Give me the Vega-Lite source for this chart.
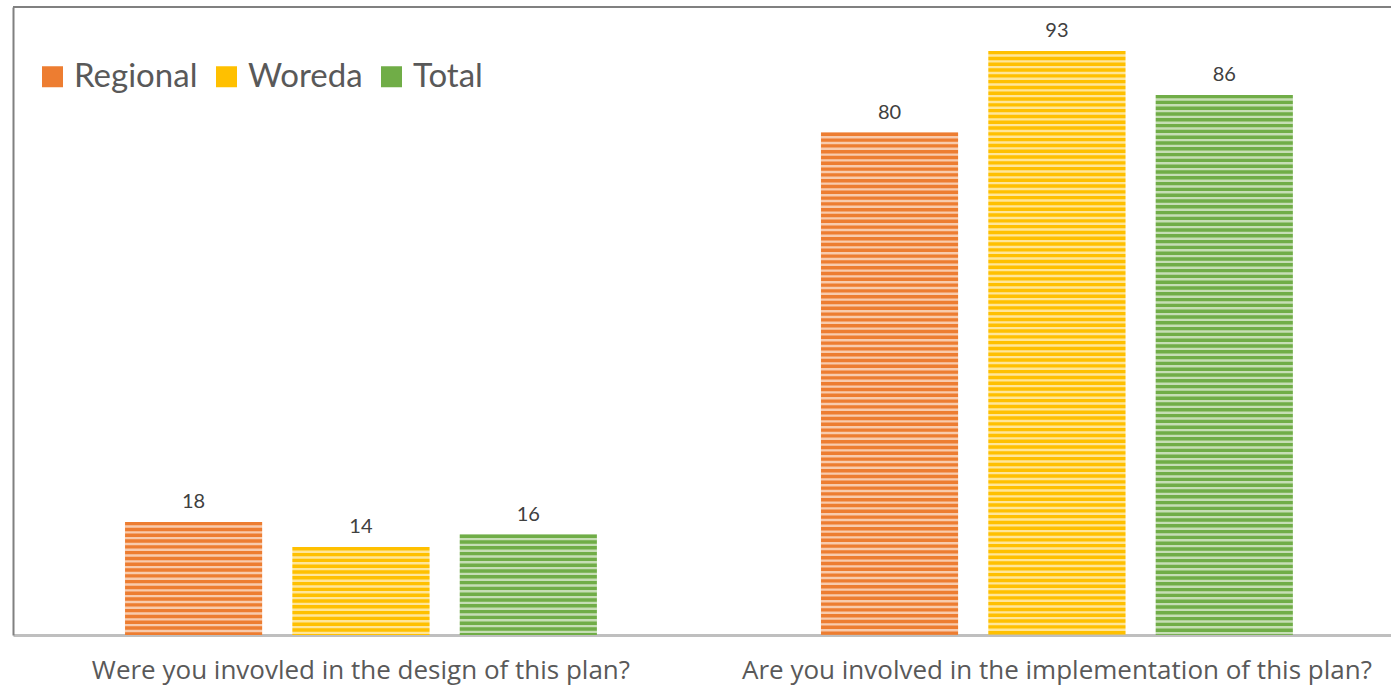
{
  "$schema": "https://vega.github.io/schema/vega-lite/v6.json",
  "width": 1378,
  "height": 628,
  "autosize": {"type": "none"},
  "padding": {"left": 13, "top": 7, "right": 0, "bottom": 53},
  "background": "white",
  "config": {"view": {"stroke": null}, "font": "Lato"},
  "data": {
    "values": [
      {"question": "Were you invovled in the design of this plan?", "series": "Regional", "value": 18},
      {"question": "Were you invovled in the design of this plan?", "series": "Woreda", "value": 14},
      {"question": "Were you invovled in the design of this plan?", "series": "Total", "value": 16},
      {"question": "Are you involved in the implementation of this plan?", "series": "Regional", "value": 80},
      {"question": "Are you involved in the implementation of this plan?", "series": "Woreda", "value": 93},
      {"question": "Are you involved in the implementation of this plan?", "series": "Total", "value": 86}
    ]
  },
  "encoding": {
    "x": {
      "field": "question", "type": "nominal", "sort": null,
      "scale": {"paddingInner": 0.3218, "paddingOuter": 0.1509, "align": 0.533},
      "axis": {"title": null, "domainColor": "#BFBFBF", "domainWidth": 3, "ticks": false, "labelAngle": 0,
               "labelFontSize": 26, "labelColor": "#595959", "labelPadding": 22, "labelFont": "Open Sans", "labelLimit": 0}
    },
    "xOffset": {"field": "series", "type": "nominal", "sort": ["Regional", "Woreda", "Total"],
                "scale": {"paddingInner": 0.18, "paddingOuter": 0}},
    "color": {
      "field": "series", "type": "nominal", "sort": ["Regional", "Woreda", "Total"],
      "scale": {"domain": ["Regional", "Woreda", "Total"], "range": ["#ED7D31", "#FFC000", "#70AD47"]},
      "legend": {"title": null, "orient": "none", "legendX": 23, "legendY": 53, "direction": "horizontal",
                 "padding": 0, "symbolType": "square", "symbolSize": 441, "symbolOpacity": 1, "symbolStrokeWidth": 0,
                 "labelFontSize": 33, "labelColor": "#595959", "labelOffset": 5, "columnPadding": 12, "labelFont": "Lato", "labelLimit": 0}
    }
  },
  "layer": [
    {
      "mark": {"type": "bar", "opacity": 0.4},
      "encoding": {
        "y": {"field": "value", "type": "quantitative", "scale": {"domain": [0, 100], "nice": false},
              "axis": {"title": null, "labels": false, "ticks": false, "grid": false, "domainColor": "#808080", "domainWidth": 2}}
      }
    },
    {
      "mark": {"type": "rule", "strokeWidth": 137, "strokeDash": [3.4, 2.4], "strokeCap": "butt"},
      "encoding": {
        "y": {"field": "value", "type": "quantitative"},
        "y2": {"datum": 0}
      }
    },
    {
      "mark": {"type": "text", "baseline": "bottom", "dy": -10, "fontSize": 20, "color": "#404040", "font": "Lato"},
      "encoding": {
        "y": {"field": "value", "type": "quantitative"},
        "text": {"field": "value", "type": "quantitative"},
        "color": {"value": "#404040"}
      }
    },
    {
      "mark": {"type": "rule", "color": "#808080", "strokeWidth": 2},
      "encoding": {
        "y": {"datum": 100},
        "x": null, "xOffset": null, "color": null
      }
    }
  ]
}
